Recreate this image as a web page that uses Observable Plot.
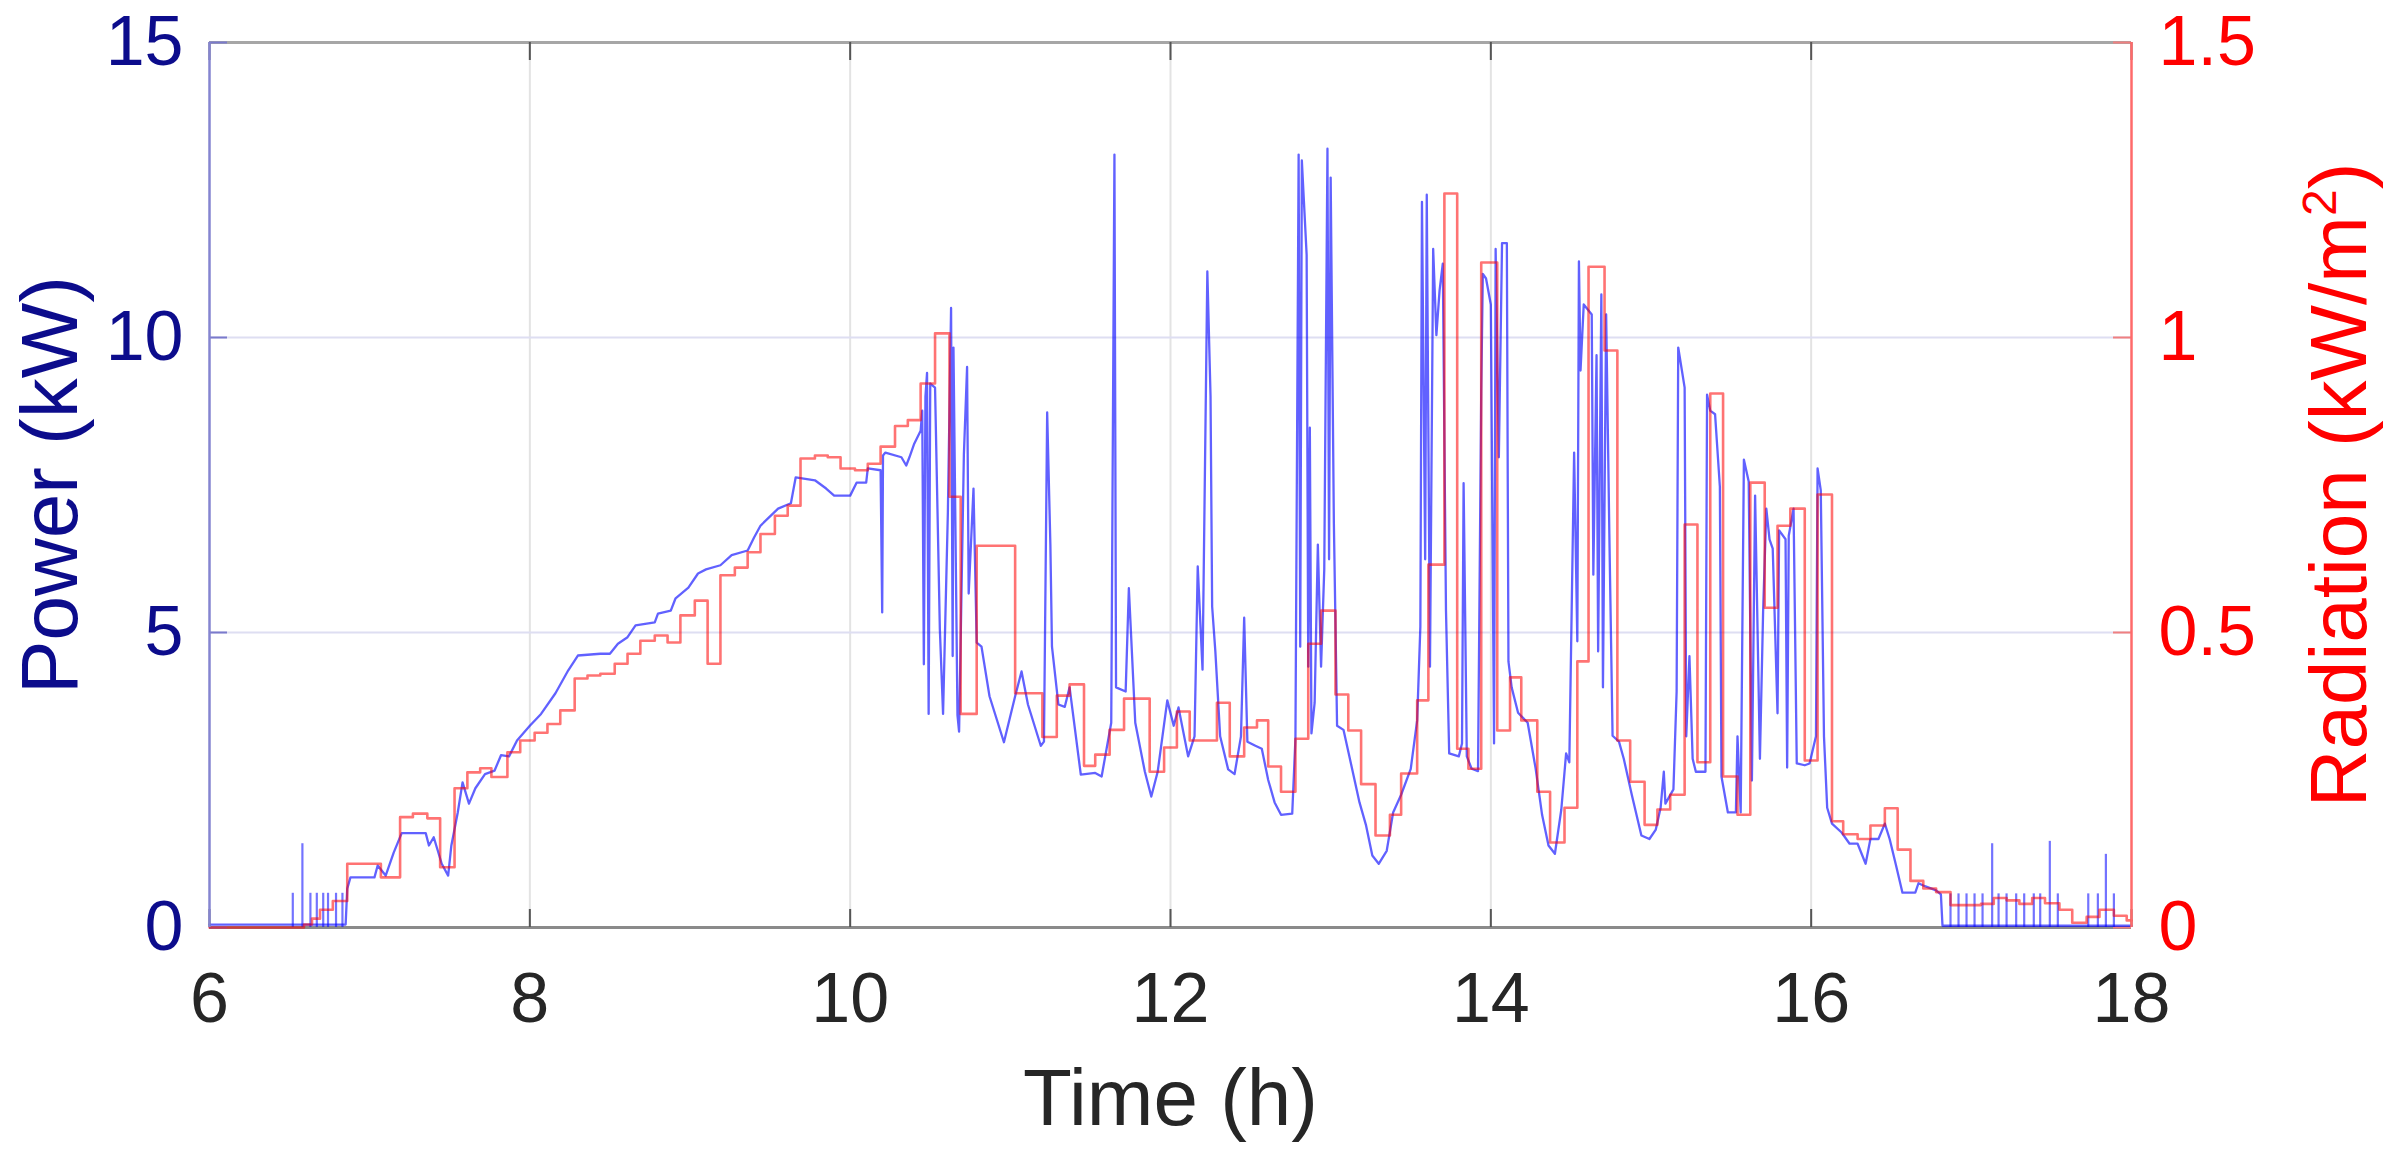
<!DOCTYPE html>
<html>
<head>
<meta charset="utf-8">
<script src="https://cdn.jsdelivr.net/npm/d3@7"></script>
<script src="https://cdn.jsdelivr.net/npm/@observablehq/plot@0.6"></script>
<style>
  html, body { margin: 0; padding: 0; background: #fff; }
  #chart svg { display: block; }
</style>
</head>
<body>
<div id="chart"></div>
<script>
// ---- data ----
const xTicks = [6, 8, 10, 12, 14, 16, 18];
const powerTicks = [0, 5, 10, 15];           // kW
const radiationTicks = [0, 0.5, 1, 1.5];     // kW/m^2 (right axis, 1 kW/m^2 <-> 10 kW)

// Power (kW) vs time (h)
const powerSeries = [
  [6.00,0.05],[6.85,0.05],[6.86,0.66],[6.88,0.85],[7.03,0.85],[7.05,1.05],[7.10,0.88],[7.15,1.27],
  [7.20,1.60],[7.35,1.60],[7.37,1.39],[7.40,1.53],[7.45,1.08],[7.49,0.88],[7.51,1.39],[7.55,1.95],
  [7.58,2.46],[7.62,2.10],[7.66,2.36],[7.72,2.60],[7.78,2.66],[7.82,2.92],[7.87,2.90],[7.92,3.17],
  [8.00,3.42],[8.07,3.62],[8.16,3.97],[8.24,4.36],[8.30,4.61],[8.44,4.64],[8.50,4.64],[8.55,4.81],
  [8.61,4.92],[8.66,5.12],[8.78,5.17],[8.80,5.32],[8.88,5.37],[8.91,5.58],[8.99,5.76],[9.05,6.00],
  [9.10,6.07],[9.19,6.14],[9.26,6.31],[9.36,6.39],[9.40,6.61],[9.44,6.81],[9.55,7.10],[9.63,7.19],
  [9.66,7.63],[9.78,7.58],[9.85,7.44],[9.90,7.32],[10.00,7.32],[10.04,7.54],[10.10,7.54],[10.11,7.78],
  [10.19,7.75],[10.20,5.34],[10.205,8.00],[10.22,8.05],[10.32,7.97],[10.35,7.83],[10.37,7.97],[10.40,8.20],
  [10.44,8.42],[10.45,8.76],[10.46,4.46],[10.47,9.00],[10.48,9.40],[10.49,3.62],[10.50,9.22],[10.53,9.15],
  [10.56,5.05],[10.58,3.62],[10.61,7.03],[10.63,10.50],[10.64,4.60],[10.645,9.83],[10.67,3.60],[10.68,3.32],
  [10.71,8.02],[10.73,9.50],[10.74,5.66],[10.77,7.44],[10.79,4.83],[10.82,4.76],[10.87,3.92],[10.96,3.14],
  [11.03,3.92],[11.07,4.34],[11.11,3.78],[11.19,3.08],[11.21,3.15],[11.23,8.73],[11.25,6.49],[11.26,4.76],
  [11.30,3.78],[11.34,3.74],[11.37,4.07],[11.44,2.59],[11.53,2.62],[11.57,2.56],[11.63,3.47],[11.65,13.10],
  [11.66,4.07],[11.72,4.00],[11.74,5.75],[11.78,3.47],[11.84,2.64],[11.88,2.22],[11.92,2.64],[11.98,3.85],
  [12.02,3.42],[12.05,3.73],[12.11,2.90],[12.15,3.24],[12.17,6.12],[12.20,4.37],[12.23,11.12],[12.25,9.00],
  [12.26,5.44],[12.28,4.68],[12.31,3.24],[12.36,2.68],[12.40,2.60],[12.44,3.24],[12.46,5.25],[12.48,3.15],
  [12.53,3.08],[12.57,3.03],[12.61,2.50],[12.65,2.12],[12.69,1.91],[12.76,1.93],[12.78,3.20],[12.80,13.10],
  [12.81,4.76],[12.82,13.00],[12.85,11.40],[12.86,4.42],[12.87,8.47],[12.88,3.29],[12.90,3.81],[12.92,6.49],
  [12.94,4.42],[12.96,6.07],[12.98,13.20],[12.99,6.24],[13.00,12.71],[13.02,6.85],[13.04,3.42],[13.08,3.35],
  [13.12,2.86],[13.18,2.12],[13.22,1.74],[13.26,1.22],[13.30,1.08],[13.35,1.30],[13.39,1.95],[13.44,2.25],
  [13.50,2.69],[13.54,3.51],[13.56,5.10],[13.57,12.30],[13.59,6.24],[13.60,12.42],[13.62,4.42],[13.64,11.50],
  [13.66,10.04],[13.68,10.80],[13.70,11.25],[13.72,5.37],[13.74,2.95],[13.80,2.90],[13.82,3.12],[13.83,7.53],
  [13.85,2.90],[13.88,2.69],[13.92,2.65],[13.94,9.08],[13.95,11.08],[13.97,11.00],[14.00,10.56],[14.02,3.12],
  [14.03,11.50],[14.05,7.97],[14.07,11.60],[14.10,11.60],[14.11,4.51],[14.13,4.07],[14.17,3.64],[14.23,3.47],
  [14.28,2.69],[14.32,1.91],[14.36,1.39],[14.40,1.25],[14.44,2.00],[14.47,2.95],[14.49,2.80],[14.52,8.05],
  [14.54,4.85],[14.55,11.29],[14.56,9.44],[14.58,10.56],[14.63,10.39],[14.64,5.98],[14.66,9.70],[14.67,4.68],
  [14.69,10.73],[14.70,4.07],[14.72,10.39],[14.74,6.66],[14.76,3.25],[14.80,3.15],[14.83,2.86],[14.88,2.25],
  [14.94,1.56],[14.99,1.50],[15.03,1.66],[15.06,2.03],[15.08,2.64],[15.09,2.10],[15.14,2.34],[15.16,4.00],
  [15.17,9.83],[15.21,9.15],[15.22,3.24],[15.24,4.60],[15.26,2.86],[15.28,2.64],[15.34,2.64],[15.35,9.03],
  [15.37,8.76],[15.40,8.70],[15.43,7.47],[15.44,2.56],[15.48,1.95],[15.53,1.95],[15.54,3.24],[15.56,1.95],
  [15.58,7.93],[15.61,7.56],[15.63,2.49],[15.65,7.32],[15.68,2.86],[15.70,5.36],[15.72,7.10],[15.74,6.58],
  [15.76,6.42],[15.79,3.63],[15.80,6.73],[15.84,6.58],[15.85,2.71],[15.86,6.64],[15.89,7.10],[15.91,2.78],
  [15.96,2.75],[15.99,2.78],[16.03,3.24],[16.04,7.78],[16.06,7.41],[16.08,3.24],[16.10,2.03],[16.13,1.76],
  [16.19,1.61],[16.24,1.42],[16.29,1.42],[16.34,1.08],[16.37,1.50],[16.42,1.50],[16.46,1.76],[16.49,1.50],
  [16.53,1.05],[16.57,0.59],[16.65,0.59],[16.67,0.75],[16.71,0.70],[16.78,0.63],[16.81,0.56],[16.82,0.03],
  [18.00,0.03]
];

// short power spikes at dawn and dusk: [time h, peak kW]
const powerSpikes = [
  [6.52,0.58],[6.58,1.42],[6.63,0.58],[6.67,0.58],[6.71,0.58],[6.74,0.58],[6.79,0.58],[6.83,0.58],
  [16.87,0.57],[16.92,0.57],[16.97,0.57],[17.02,0.57],[17.07,0.57],[17.13,1.42],[17.17,0.57],[17.22,0.57],
  [17.28,0.57],[17.33,0.57],[17.39,0.57],[17.43,0.57],[17.49,1.46],[17.54,0.57],[17.73,0.57],[17.79,0.57],
  [17.84,1.24],[17.89,0.57]
];

// Radiation (kW/m^2), step values starting at each time (h)
const radiationSeries = [
  [6.00,0.000],[6.59,0.005],[6.64,0.015],[6.69,0.030],[6.77,0.045],[6.86,0.108],[7.07,0.085],[7.19,0.187],
  [7.27,0.193],[7.36,0.185],[7.44,0.102],[7.53,0.236],[7.61,0.263],[7.69,0.270],[7.76,0.255],[7.86,0.297],
  [7.94,0.317],[8.03,0.330],[8.11,0.345],[8.19,0.368],[8.28,0.422],[8.36,0.427],[8.44,0.430],[8.53,0.447],
  [8.61,0.464],[8.69,0.486],[8.78,0.495],[8.86,0.483],[8.94,0.529],[9.03,0.554],[9.11,0.447],[9.19,0.597],
  [9.28,0.610],[9.36,0.636],[9.44,0.667],[9.53,0.698],[9.61,0.715],[9.69,0.795],[9.78,0.800],[9.86,0.797],
  [9.94,0.778],[10.03,0.775],[10.11,0.786],[10.19,0.815],[10.28,0.850],[10.36,0.860],[10.44,0.922],[10.53,1.007],
  [10.62,0.730],[10.69,0.362],[10.79,0.647],[11.03,0.397],[11.20,0.323],[11.29,0.393],[11.37,0.412],[11.46,0.274],
  [11.53,0.293],[11.62,0.335],[11.71,0.388],[11.87,0.264],[11.96,0.305],[12.04,0.366],[12.12,0.317],[12.29,0.381],
  [12.37,0.290],[12.46,0.339],[12.54,0.351],[12.61,0.273],[12.69,0.230],[12.78,0.320],[12.86,0.481],[12.94,0.537],
  [13.03,0.395],[13.11,0.334],[13.19,0.243],[13.28,0.156],[13.37,0.191],[13.44,0.261],[13.54,0.385],[13.61,0.615],
  [13.71,1.244],[13.79,0.303],[13.86,0.269],[13.94,1.127],[14.04,0.334],[14.12,0.424],[14.19,0.351],[14.29,0.230],
  [14.37,0.144],[14.46,0.203],[14.54,0.451],[14.61,1.120],[14.71,0.978],[14.79,0.317],[14.87,0.247],[14.96,0.174],
  [15.04,0.200],[15.12,0.225],[15.21,0.683],[15.29,0.280],[15.37,0.905],[15.45,0.256],[15.54,0.191],[15.62,0.754],
  [15.71,0.542],[15.79,0.681],[15.87,0.710],[15.96,0.283],[16.04,0.734],[16.13,0.180],[16.20,0.158],[16.29,0.150],
  [16.37,0.173],[16.46,0.202],[16.54,0.132],[16.62,0.079],[16.70,0.066],[16.78,0.060],[16.87,0.038],[17.06,0.040],
  [17.14,0.050],[17.22,0.046],[17.30,0.040],[17.38,0.050],[17.46,0.041],[17.55,0.030],[17.63,0.008],[17.72,0.018],
  [17.80,0.030],[17.89,0.020],[17.97,0.012],[18.00,0.012]
];

// ---- chart ----
const W = 2403, H = 1160;
const mL = 209, mR = 272, mT = 42, mB = 233;
const plotW = W - mL - mR, plotH = H - mT - mB;
const navy = "#0c0c8c";
const font = "Liberation Sans, Arial, Helvetica, sans-serif";
const radToPower = 10; // right-axis value * 10 = left-axis value

const chart = Plot.plot({
  width: W,
  height: H,
  marginLeft: mL,
  marginRight: mR,
  marginTop: mT,
  marginBottom: mB,
  style: { fontFamily: font, background: "#fff", overflow: "visible" },
  x: { domain: [6, 18] },
  y: { domain: [0, 15] },
  marks: [
    // grid
    Plot.gridX(xTicks.slice(1, -1), { stroke: "#e3e3e3", strokeOpacity: 1, strokeWidth: 2 }),
    Plot.gridY(powerTicks.slice(1, -1), { stroke: "#dedef2", strokeOpacity: 1, strokeWidth: 2 }),
    // frame
    Plot.ruleY([15], { stroke: "#a6a6a6", strokeWidth: 3 }),
    Plot.ruleY([0], { stroke: "#8a8a8a", strokeWidth: 3 }),
    // inward ticks
    Plot.tickX(xTicks, { x: d => d, insetTop: plotH - 18, stroke: "#555", strokeWidth: 2 }),
    Plot.tickX(xTicks, { x: d => d, insetBottom: plotH - 18, stroke: "#555", strokeWidth: 2 }),
    Plot.tickY(powerTicks, { y: d => d, insetRight: plotW - 18, stroke: "#7a7acc", strokeWidth: 2 }),
    Plot.tickY(radiationTicks, { y: d => d * radToPower, insetLeft: plotW - 18, stroke: "#f08080", strokeWidth: 2 }),
    // data
    Plot.ruleX(powerSpikes, { x: d => d[0], y1: 0, y2: d => d[1], stroke: "#0000ff", strokeOpacity: 0.55, strokeWidth: 2.2 }),
    Plot.line(powerSeries, { x: d => d[0], y: d => d[1], stroke: "#0000ff", strokeOpacity: 0.62, strokeWidth: 2.3 }),
    Plot.line(radiationSeries, { x: d => d[0], y: d => d[1] * radToPower, curve: "step-after", stroke: "#ff0000", strokeOpacity: 0.55, strokeWidth: 2.6 }),
    Plot.ruleX([6], { stroke: "#8585d0", strokeWidth: 2.5 }),
    Plot.ruleX([18], { stroke: "#ff6a6a", strokeWidth: 2.5 }),
    // tick labels
    Plot.axisX({ ticks: xTicks, tickSize: 0, tickPadding: 45, fontSize: 70, color: "#262626", tickFormat: d => String(d), label: null }),
    Plot.axisY({ anchor: "left", ticks: powerTicks, tickSize: 0, tickPadding: 26, fontSize: 70, color: navy, tickFormat: d => String(d), label: null }),
    Plot.text(radiationTicks, { y: d => d * radToPower, frameAnchor: "right", dx: 27, textAnchor: "start", lineAnchor: "middle", text: d => String(d), fontSize: 70, fill: "#ff0000" }),
    // axis titles
    Plot.text(["Time (h)"], { frameAnchor: "bottom", dy: 172, textAnchor: "middle", lineAnchor: "middle", fontSize: 80, fill: "#262626" }),
    Plot.text(["Power (kW)"], { frameAnchor: "left", dx: -158, rotate: -90, textAnchor: "middle", lineAnchor: "middle", fontSize: 80, fill: navy }),
    Plot.text(["Radiation (kW/m²)"], { frameAnchor: "right", dx: 209, rotate: -90, textAnchor: "middle", lineAnchor: "middle", fontSize: 80, fill: "#ff0000" })
  ]
});
document.getElementById("chart").appendChild(chart);

// larger superscript for m² in the right title
d3.select(chart).selectAll("text").filter(function () { return this.textContent === "Radiation (kW/m²)"; })
  .each(function () {
    const t = d3.select(this);
    t.text(null);
    t.append("tspan").text("Radiation (kW/m");
    t.append("tspan").attr("dy", "-30px").attr("font-size", "48px").text("2");
    t.append("tspan").attr("dy", "30px").text(")");
  });
</script>
</body>
</html>
